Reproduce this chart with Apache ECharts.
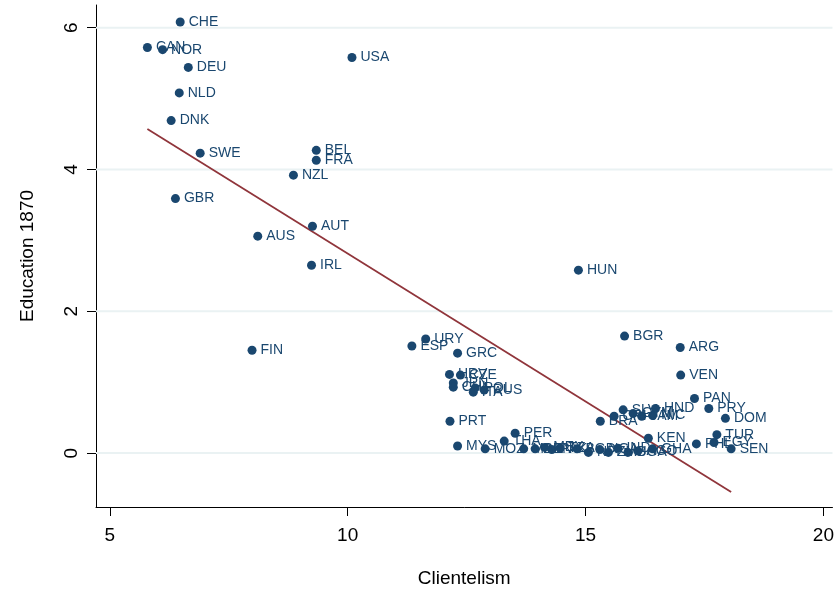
<!DOCTYPE html>
<html>
<head>
<meta charset="utf-8">
<script src="https://cdn.jsdelivr.net/npm/echarts@6/dist/echarts.min.js"></script>
<style>
  html, body { margin: 0; padding: 0; background: #fff; }
  #chart { width: 837px; height: 593px; }
</style>
</head>
<body>
<div id="chart"></div>
<script>
// country codes and values
const countries = ['CHE','CAN','NOR','DEU','NLD','DNK','SWE','GBR','AUS','NZL','BEL','FRA','AUT','IRL','USA','FIN','HUN',
  'ESP','URY','GRC','HRV','CZE','JPN','CHL','POL','ITA','RUS','PRT','MYS','MOZ','THA','PER','MAR','BEN','MEX','PAK','TZA','BGD',
  'NPL','NGA','ZMB','IND','UGA','AGO','GHA','KEN','BRA','CRI','SLV','GTM','JAM','NIC','HND','BGR','ARG','VEN','PAN','PRY','DOM',
  'TUR','EGY','PHL','SEN'];
const clientelism = [6.48,5.79,6.11,6.65,6.46,6.29,6.90,6.38,8.11,8.86,9.34,9.34,9.26,9.24,10.09,7.99,14.85,
  11.35,11.64,12.31,12.14,12.37,12.22,12.22,12.68,12.64,12.87,12.15,12.31,12.89,13.29,13.52,13.70,13.94,14.14,14.29,14.46,14.82,
  15.06,15.30,15.48,15.68,15.89,16.10,16.41,16.32,15.31,15.60,15.79,16.00,16.18,16.41,16.47,15.82,16.99,17.00,17.29,17.59,17.94,
  17.76,17.70,17.33,18.06];
const education = [6.08,5.72,5.69,5.44,5.08,4.69,4.23,3.59,3.06,3.92,4.27,4.13,3.20,2.65,5.58,1.45,2.58,
  1.51,1.61,1.41,1.11,1.10,0.99,0.93,0.92,0.86,0.89,0.45,0.10,0.06,0.17,0.28,0.06,0.06,0.08,0.05,0.07,0.06,
  0.01,0.05,0.01,0.07,0.01,0.03,0.06,0.21,0.45,0.52,0.61,0.56,0.52,0.53,0.63,1.65,1.49,1.10,0.77,0.63,0.49,
  0.26,0.15,0.13,0.06];
// fitted line end points
const fitX = [5.79, 18.06];
const fitY = [4.57, -0.55];
const xTicks = [5, 10, 15, 20];
const yTicks = [0, 2, 4, 6];

const xMin = 4.71, xMax = 20.19;
const navy = '#1a476f';
const font = '"Liberation Sans", Arial, sans-serif';

// horizontal grid lines, one small series per y tick
const gridSeries = yTicks.map(v => ({
  type: 'line',
  data: [[xMin, v], [xMax, v]],
  symbol: 'none',
  silent: true,
  lineStyle: { color: '#eaf2f3', width: 2 },
  z: 1
}));

const chart = echarts.init(document.getElementById('chart'));
chart.setOption({
  animation: false,
  grid: { left: 96, right: 0, top: 5, bottom: 85 },
  xAxis: {
    type: 'value',
    min: xMin, max: xMax,
    name: 'Clientelism',
    nameLocation: 'middle',
    nameGap: 62,
    nameTextStyle: { fontFamily: font, fontSize: 19, color: '#000' },
    axisLine: { onZero: false, lineStyle: { color: '#000', width: 1 } },
    axisTick: { customValues: xTicks, length: 9, lineStyle: { color: '#000' } },
    axisLabel: { customValues: xTicks, margin: 19, fontFamily: font, fontSize: 19, color: '#000' },
    splitLine: { show: false }
  },
  yAxis: {
    type: 'value',
    min: -0.76, max: 6.32,
    name: 'Education 1870',
    nameLocation: 'middle',
    nameGap: 59,
    nameRotate: 90,
    nameTextStyle: { fontFamily: font, fontSize: 19, color: '#000' },
    axisLine: { show: true, onZero: false, lineStyle: { color: '#000', width: 1 } },
    axisTick: { customValues: yTicks, length: 9, lineStyle: { color: '#000' } },
    axisLabel: { customValues: yTicks, rotate: 90, margin: 15, fontFamily: font, fontSize: 19, color: '#000' },
    splitLine: { show: false }
  },
  series: gridSeries.concat([
    {
      type: 'line',
      data: fitX.map((x, i) => [x, fitY[i]]),
      symbol: 'none',
      silent: true,
      lineStyle: { color: '#90353b', width: 1.8 },
      z: 3
    },
    {
      type: 'scatter',
      data: countries.map((c, i) => [clientelism[i], education[i], c]),
      symbolSize: 9,
      itemStyle: { color: navy, opacity: 1 },
      label: {
        show: true,
        position: 'right',
        distance: 4,
        formatter: p => p.data[2],
        fontFamily: font,
        fontSize: 14,
        color: navy
      },
      labelLayout: { hideOverlap: false },
      z: 4
    }
  ])
});
</script>
</body>
</html>
